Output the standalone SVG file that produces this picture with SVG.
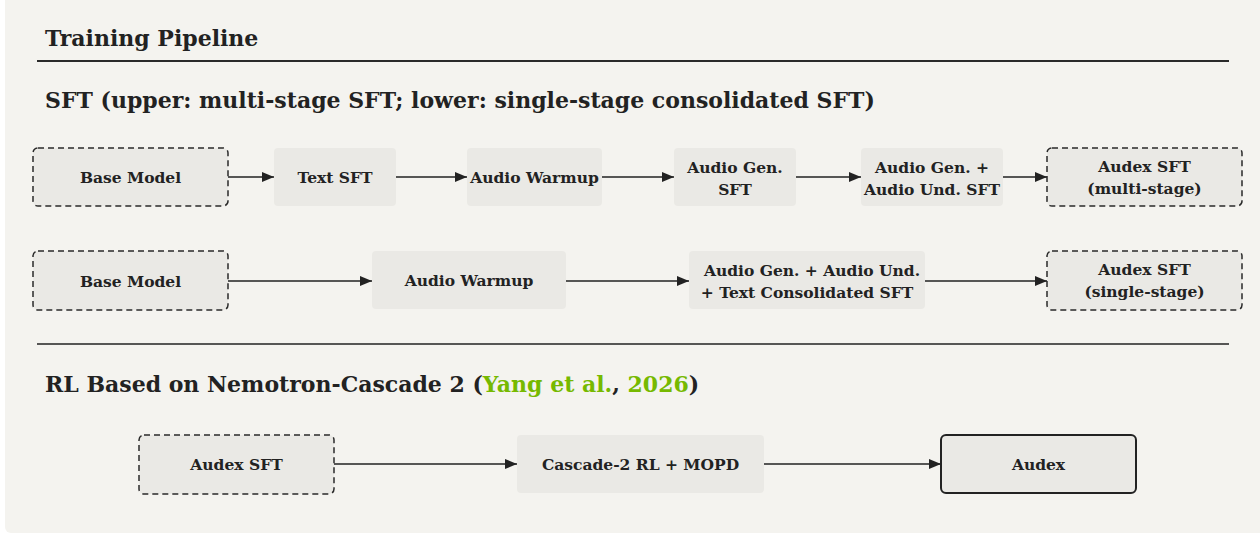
<svg xmlns="http://www.w3.org/2000/svg" width="1260" height="534" viewBox="0 0 1260 534">
<defs>
<marker id="ah" viewBox="0 0 12 10" refX="12" refY="5" markerWidth="12" markerHeight="10" markerUnits="userSpaceOnUse" orient="auto">
<path d="M0,0 L12,5 L0,10 Z" fill="#222"/>
</marker>
<style>
text{font-family:"DejaVu Serif","Liberation Serif",serif;font-weight:bold;fill:#222}
.h{font-size:22px}
.n{font-size:15.5px;text-anchor:middle}
.box{fill:#eae9e5}
.dash{fill:#eae9e5;stroke:#2a2a2a;stroke-width:1.5;stroke-dasharray:6 4}
.solid{fill:#eae9e5;stroke:#222;stroke-width:2}
.rule{stroke:#2a2a2a;stroke-width:2}
.rule2{stroke:#222;stroke-width:1.3}
.c{stroke:#222;stroke-width:1.6;fill:none;marker-end:url(#ah)}
.g{fill:#76b900}
</style>
</defs>
<rect x="0" y="0" width="1260" height="534" fill="#ffffff"/>
<rect x="5" y="-8" width="1262" height="541" rx="6" fill="#f4f3ef"/>

<text class="h" x="45" y="46">Training Pipeline</text>
<line class="rule" x1="37" y1="61" x2="1229" y2="61"/>
<text class="h" x="45" y="108">SFT (upper: multi-stage SFT; lower: single-stage consolidated SFT)</text>
<line class="rule2" x1="37" y1="344" x2="1229" y2="344"/>
<text class="h" x="45" y="392">RL Based on Nemotron-Cascade 2 (<tspan class="g">Yang et al.</tspan>, <tspan class="g">2026</tspan>)</text>

<g id="connectors">
<line class="c" x1="228" y1="177" x2="274" y2="177"/>
<line class="c" x1="396" y1="177" x2="467" y2="177"/>
<line class="c" x1="602" y1="177" x2="674" y2="177"/>
<line class="c" x1="796" y1="177" x2="861" y2="177"/>
<line class="c" x1="1003" y1="177" x2="1047" y2="177"/>
<line class="c" x1="228" y1="281" x2="372" y2="281"/>
<line class="c" x1="566" y1="281" x2="689" y2="281"/>
<line class="c" x1="925" y1="281" x2="1047" y2="281"/>
<line class="c" x1="334" y1="464" x2="517" y2="464"/>
<line class="c" x1="764" y1="464" x2="941" y2="464"/>
</g>

<g id="base-model-1"><rect class="dash" x="33" y="148" width="195" height="58" rx="5"/><text class="n" x="130.5" y="183">Base Model</text></g>
<g id="text-sft"><rect class="box" x="274" y="148" width="122" height="58" rx="4"/><text class="n" x="335" y="183">Text SFT</text></g>
<g id="audio-warmup-1"><rect class="box" x="467" y="148" width="135" height="58" rx="4"/><text class="n" x="534.5" y="183">Audio Warmup</text></g>
<g id="audio-gen-sft"><rect class="box" x="674" y="148" width="122" height="58" rx="4"/><text class="n" x="735" y="173">Audio Gen.</text><text class="n" x="735" y="195">SFT</text></g>
<g id="audio-gen-und-sft"><rect class="box" x="861" y="148" width="142" height="58" rx="4"/><text class="n" x="932" y="173">Audio Gen. +</text><text class="n" x="932" y="195">Audio Und. SFT</text></g>
<g id="audex-sft-multi"><rect class="dash" x="1047" y="148" width="195" height="58" rx="5"/><text class="n" x="1144.5" y="172">Audex SFT</text><text class="n" x="1144.5" y="194">(multi-stage)</text></g>

<g id="base-model-2"><rect class="dash" x="33" y="251" width="195" height="59" rx="5"/><text class="n" x="130.5" y="287">Base Model</text></g>
<g id="audio-warmup-2"><rect class="box" x="372" y="251" width="194" height="58" rx="4"/><text class="n" x="469" y="286">Audio Warmup</text></g>
<g id="consolidated-sft"><rect class="box" x="689" y="251" width="236" height="58" rx="4"/><text class="n" x="812" y="276">Audio Gen. + Audio Und.</text><text class="n" x="807" y="298">+ Text Consolidated SFT</text></g>
<g id="audex-sft-single"><rect class="dash" x="1047" y="251" width="195" height="59" rx="5"/><text class="n" x="1144.5" y="275">Audex SFT</text><text class="n" x="1144.5" y="297">(single-stage)</text></g>

<g id="audex-sft-rl"><rect class="dash" x="139" y="435" width="195" height="59" rx="5"/><text class="n" x="236.5" y="470">Audex SFT</text></g>
<g id="cascade-rl"><rect class="box" x="517" y="435" width="247" height="58" rx="4"/><text class="n" x="640.5" y="470">Cascade-2 RL + MOPD</text></g>
<g id="audex"><rect class="solid" x="941" y="435" width="195" height="58" rx="5"/><text class="n" x="1038.5" y="470">Audex</text></g>
</svg>
